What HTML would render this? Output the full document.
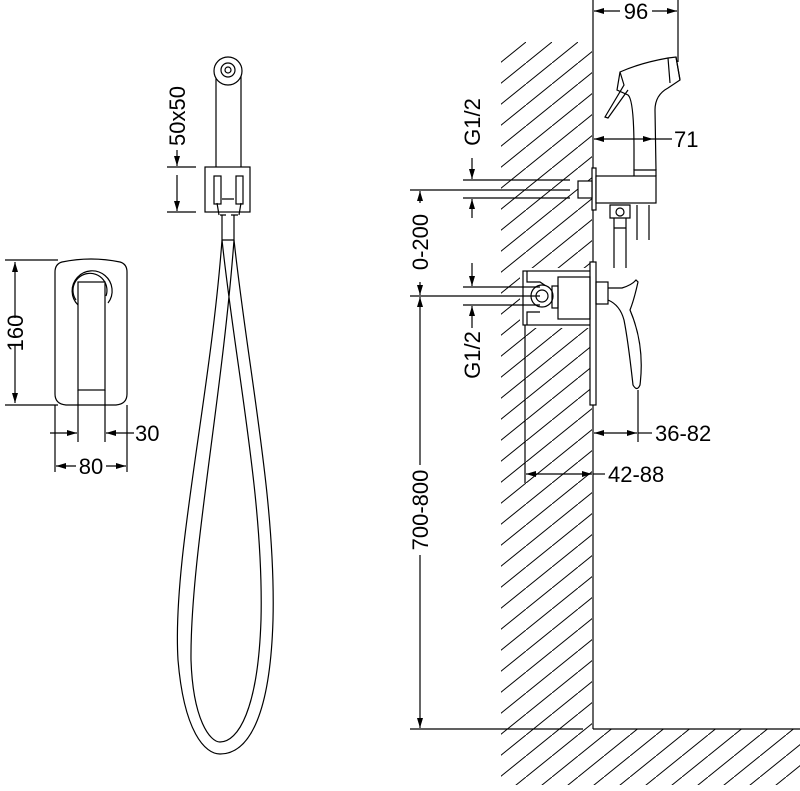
<!DOCTYPE html>
<html><head><meta charset="utf-8"><style>
html,body{margin:0;padding:0;background:#fff;}
svg{display:block;}
text{font-family:"Liberation Sans",sans-serif;font-size:22px;fill:#000;}
</style></head><body>
<svg width="800" height="791" viewBox="0 0 800 791" xmlns="http://www.w3.org/2000/svg">
<defs>
<pattern id="h" patternUnits="userSpaceOnUse" width="26" height="21" x="500" y="42">
<path d="M-2.6,23.1 L28.6,-2.1" stroke="#000" stroke-width="1"/>
</pattern>
<marker id="a" viewBox="0 0 10 6" refX="10" refY="3" markerWidth="10" markerHeight="6" orient="auto-start-reverse" markerUnits="userSpaceOnUse"><path d="M0,0 L10,3 L0,6z" fill="#000"/></marker>
</defs>
<g stroke="#000" stroke-width="1.2" fill="none">
<!-- wall hatch -->
<rect x="501" y="42" width="91" height="687" fill="url(#h)" stroke="none"/>
<rect x="501" y="729" width="299" height="56" fill="url(#h)" stroke="none"/>
<rect x="520" y="268" width="75" height="60" fill="#fff" stroke="none"/>
<line x1="593" y1="42" x2="593" y2="729"/>
<line x1="593" y1="729" x2="800" y2="729"/>

<!-- left plate -->
<path d="M62,262 Q91,256 120,262 Q127,264 127,272 L127,394 Q127,404 116,405 L66,405 Q55,404 55,394 L55,272 Q55,264 62,262Z"/>
<path d="M78,305 A20,20 0 1 1 108,303"/>
<path d="M76,300 A17,17 0 1 1 106,296"/>
<rect x="78" y="282" width="27" height="108" fill="#fff"/>
<!-- 160 -->
<line x1="5" y1="260" x2="58" y2="260"/><line x1="5" y1="405" x2="58" y2="405"/>
<line x1="15" y1="262" x2="15" y2="318" marker-start="url(#a)"/>
<line x1="15" y1="345" x2="15" y2="403" marker-end="url(#a)"/>
<!-- 30 -->
<line x1="78" y1="390" x2="78" y2="442"/><line x1="105" y1="390" x2="105" y2="442"/>
<line x1="50" y1="433" x2="77" y2="433" marker-end="url(#a)"/>
<line x1="134" y1="433" x2="106" y2="433" marker-end="url(#a)"/>
<!-- 80 -->
<line x1="55" y1="405" x2="55" y2="472"/><line x1="127" y1="405" x2="127" y2="472"/>
<line x1="56" y1="466" x2="76" y2="466" marker-start="url(#a)"/>
<line x1="106" y1="466" x2="126" y2="466" marker-end="url(#a)"/>

<!-- hand shower front -->
<path d="M216,72 L216,167 M241,72 L241,167"/>
<circle cx="228" cy="71" r="14" fill="#fff"/>
<circle cx="228" cy="70" r="7"/><circle cx="228" cy="70" r="3"/>
<rect x="205" y="167" width="45" height="45"/>
<rect x="214" y="176" width="7" height="28"/><rect x="236" y="176" width="7" height="28"/>
<path d="M222,199 L234,199 M217,203 L219,215 M241,203 L239,215 M220,215 L226,215 M231,215 L238,215"/>
<path d="M222,215 L222,240 M234,215 L234,240 M222,240 L234,240"/>
<!-- hose -->
<path d="M222,240 C210,400 172,560 178,660 C184,732 205,754 220,754 C247,754 270,720 273,620 C276,500 248,370 234,240"/>
<path d="M234,240 C222,400 190,560 191,660 C193,720 210,742 220,742 C238,742 258,710 261,620 C264,500 236,370 222,240"/>

<!-- 50x50 -->
<line x1="167" y1="167" x2="196" y2="167"/><line x1="167" y1="212" x2="196" y2="212"/>
<line x1="177" y1="150" x2="177" y2="166" marker-end="url(#a)"/>
<line x1="177" y1="175" x2="177" y2="211" marker-end="url(#a)"/>

<!-- right shower holder -->
<rect x="592" y="168" width="4" height="42" fill="#fff"/>
<rect x="578" y="181" width="14" height="17" fill="#fff"/>
<rect x="596" y="176" width="60" height="27" fill="#fff"/>
<path d="M634,176 L634,170 L656,170 L656,176"/>
<path d="M634,170 L634,150 Q634,100 628,95 L617,90 L620,72 Q640,63 668,58 L676,57 L680,80 L668,88 Q655,95 655,110 L656,170"/>
<path d="M668,58 L670,83 M676,57 L680,80"/>
<path d="M620,72 L624,85 L605,117 L608,118 L628,90"/>
<path d="M610,205 L630,205 L630,218 L610,218Z"/><circle cx="620" cy="212" r="4"/>
<path d="M614,218 L614,268 M626,218 L626,268 M614,228 L626,228"/>
<path d="M637,205 L637,240 M649,205 L649,240"/>

<!-- valve -->
<rect x="523" y="271" width="70" height="54" fill="#fff"/>
<rect x="590" y="262" width="6" height="143" fill="#fff"/>
<rect x="558" y="277" width="32" height="42"/>
<path d="M527,271 L527,282 L540,282 L546,286 M527,325 L527,312 L540,312"/>
<circle cx="542" cy="296" r="11" fill="#fff"/><circle cx="542" cy="296" r="6"/>
<rect x="552" y="286" width="6" height="22"/>
<rect x="596" y="282" width="12" height="22"/>
<path d="M608,288 L622,288 Q632,285 636,280 L638,282 Q634,300 630,310 Q645,345 640,385 Q637,392 633,385 Q628,340 624,320 Q620,305 608,300"/>
<!-- dims right -->
<line x1="593" y1="0" x2="593" y2="42"/><line x1="678" y1="0" x2="678" y2="62"/>
<line x1="594" y1="11" x2="620" y2="11" marker-start="url(#a)"/>
<line x1="652" y1="11" x2="677" y2="11" marker-end="url(#a)"/>
<line x1="594" y1="139" x2="653" y2="139" marker-start="url(#a)" marker-end="url(#a)"/>
<line x1="653" y1="139" x2="672" y2="139"/>
<line x1="638" y1="390" x2="638" y2="442"/>
<line x1="594" y1="433" x2="637" y2="433" marker-start="url(#a)" marker-end="url(#a)"/>
<line x1="638" y1="433" x2="652" y2="433"/>
<line x1="525" y1="325" x2="525" y2="483"/>
<line x1="526" y1="474" x2="592" y2="474" marker-start="url(#a)" marker-end="url(#a)"/>
<line x1="593" y1="474" x2="605" y2="474"/>
<!-- left vertical dims -->
<line x1="463" y1="180" x2="570" y2="180"/><line x1="463" y1="198" x2="570" y2="198"/>
<line x1="410" y1="190" x2="570" y2="190"/>
<line x1="472" y1="158" x2="472" y2="179" marker-end="url(#a)"/>
<line x1="472" y1="218" x2="472" y2="199" marker-end="url(#a)"/>
<line x1="463" y1="287" x2="540" y2="287"/><line x1="463" y1="305" x2="540" y2="305"/>
<line x1="410" y1="296" x2="540" y2="296"/>
<line x1="472" y1="263" x2="472" y2="286" marker-end="url(#a)"/>
<line x1="472" y1="328" x2="472" y2="306" marker-end="url(#a)"/>
<line x1="420" y1="191" x2="420" y2="203" marker-start="url(#a)"/>
<line x1="420" y1="282" x2="420" y2="295" marker-end="url(#a)"/>
<line x1="420" y1="297" x2="420" y2="465" marker-start="url(#a)"/>
<line x1="420" y1="555" x2="420" y2="728" marker-end="url(#a)"/>
<line x1="410" y1="729" x2="583" y2="729"/>
</g>
<g>
<text transform="translate(23,333) rotate(-90)" text-anchor="middle">160</text>
<text x="135" y="441">30</text>
<text x="91" y="474" text-anchor="middle">80</text>
<text transform="translate(185,116) rotate(-90)" text-anchor="middle">50x50</text>
<text x="636" y="19" text-anchor="middle">96</text>
<text x="674" y="147">71</text>
<text x="655" y="441">36-82</text>
<text x="608" y="482">42-88</text>
<text transform="translate(480,122) rotate(-90)" text-anchor="middle">G1/2</text>
<text transform="translate(480,355) rotate(-90)" text-anchor="middle">G1/2</text>
<text transform="translate(428,242) rotate(-90)" text-anchor="middle">0-200</text>
<text transform="translate(428,510) rotate(-90)" text-anchor="middle">700-800</text>
</g>
</svg>
</body></html>
